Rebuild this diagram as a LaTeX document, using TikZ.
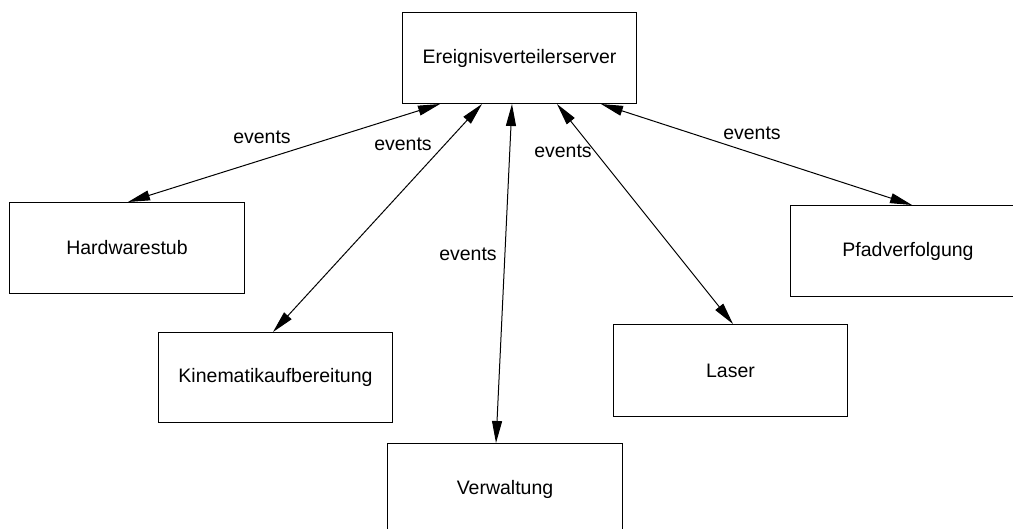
\documentclass[tikz,border=0pt]{standalone}
\usepackage{fontspec}
\setmainfont{Liberation Sans}
\usetikzlibrary{arrows.meta}
\begin{document}
\begin{tikzpicture}[x=1pt,y=-1pt,
  box/.style={draw=black,line width=1pt,minimum width=234pt,minimum height=91pt,anchor=north west,inner sep=0pt,font=\fontsize{19.5}{23}\selectfont},
  lbl/.style={anchor=base,inner sep=0pt,font=\fontsize{19.5}{23}\selectfont},
  conn/.style={line width=1pt,{Triangle[length=22pt,width=10pt]}-{Triangle[length=22pt,width=10pt]}}]
\useasboundingbox (0,0) rectangle (1013,528);
\clip (0,0) rectangle (1013,528);
\node[box] (srv) at (402,12) {Ereignisverteilerserver};
\node[box,minimum width=235pt] (hw) at (9,202) {Hardwarestub};
\node[box,minimum height=90pt] (kin) at (158,332) {Kinematikaufbereitung};
\node[box,minimum width=235pt] (ver) at (387,443) {Verwaltung};
\node[box,minimum height=92pt] (las) at (613,324) {Laser};
\node[box,minimum width=235pt] (pfd) at (790,205) {Pfadverfolgung};
\draw[conn] ([xshift=38pt]srv.south west) -- ([xshift=119pt]hw.north west);
\draw[conn] ([xshift=80pt]srv.south west) -- ([xshift=115pt]kin.north west);
\draw[conn] ([xshift=110pt]srv.south west) -- ([xshift=109pt]ver.north west);
\draw[conn] ([xshift=155pt]srv.south west) -- ([xshift=120pt]las.north west);
\draw[conn] ([xshift=199pt]srv.south west) -- ([xshift=122pt]pfd.north west);
\node[lbl] (l1) at (262,143) {events};
\node[lbl] (l2) at (403,150) {events};
\node[lbl] (l3) at (468,260) {events};
\node[lbl] (l4) at (563,157) {events};
\node[lbl] (l5) at (752,139) {events};
\end{tikzpicture}
\end{document}
